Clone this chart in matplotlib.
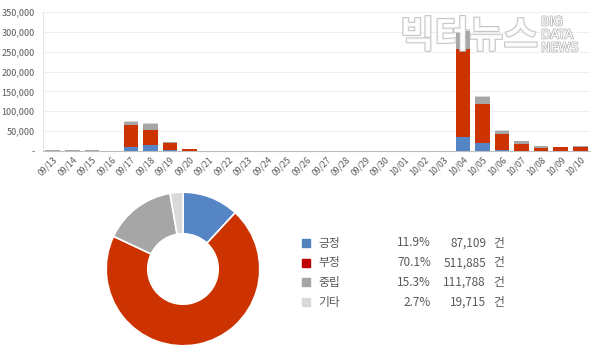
import numpy as np
import matplotlib.pyplot as plt
import matplotlib.patheffects as pe

plt.rcParams['font.family'] = ['Noto Sans CJK KR', 'DejaVu Sans']

dates = ['09/13', '09/14', '09/15', '09/16', '09/17', '09/18', '09/19', '09/20',
         '09/21', '09/22', '09/23', '09/24', '09/25', '09/26', '09/27', '09/28',
         '09/29', '09/30', '10/01', '10/02', '10/03', '10/04', '10/05', '10/06',
         '10/07', '10/08', '10/09', '10/10']

# daily counts per sentiment
positive = [800, 500, 500, 300, 11000, 14000, 2000, 300,
            200, 200, 200, 200, 200, 200, 200, 200,
            200, 200, 200, 200, 200, 35000, 19000, 2000,
            1000, 1000, 500, 500]
negative = [200, 200, 200, 100, 54000, 39000, 17000, 4000,
            300, 200, 200, 200, 200, 200, 200, 200,
            200, 200, 200, 200, 300, 221000, 99000, 41000,
            16000, 6500, 8500, 10500]
neutral = [1000, 800, 800, 500, 9000, 16000, 4000, 500,
           300, 200, 200, 200, 200, 200, 200, 200,
           200, 200, 200, 200, 300, 45000, 18000, 8000,
           7000, 4000, 1000, 1000]
other = [300, 300, 300, 200, 1500, 1500, 500, 200,
         100, 100, 100, 100, 100, 100, 100, 100,
         100, 100, 100, 100, 100, 6000, 3000, 2000,
         1000, 500, 500, 500]

labels = ['긍정', '부정', '중립', '기타']
shares = [11.9, 70.1, 15.3, 2.7]
totals = [87109, 511885, 111788, 19715]

colors = ['#5685C6', '#CC3300', '#A6A6A6', '#D9D9D9']
legend_colors = ['#4F81BD', '#C00000', '#A6A6A6', '#D9D9D9']
text_color = '#595959'

fig = plt.figure(figsize=(6, 3.46), dpi=100)

# stacked daily bars
ax = fig.add_axes([43 / 600, 1 - 151 / 346, 547 / 600, 139 / 346])
x = np.arange(len(dates))
bottom = np.zeros(len(dates))
for vals, c in zip([positive, negative, neutral, other], colors):
    ax.bar(x, vals, 0.75, bottom=bottom, color=c, zorder=3)
    bottom += np.array(vals)

ax.set_xlim(-0.5, len(dates) - 0.5)
ax.set_ylim(0, 350000)
ax.set_yticks(np.arange(0, 350001, 50000))
ax.set_yticklabels(['-'] + [f'{v:,}' for v in range(50000, 350001, 50000)])
ax.set_xticks(x)
ax.set_xticklabels(dates, rotation=45, ha='right', rotation_mode='anchor')
ax.tick_params(axis='y', labelsize=6.5, colors=text_color, length=0, pad=6)
ax.tick_params(axis='x', labelsize=6.3, colors=text_color, length=0, pad=3)
ax.grid(axis='y', color='#EFEFEF', linewidth=0.7, zorder=0)
for s in ['top', 'right']:
    ax.spines[s].set_visible(False)
ax.spines['left'].set_color('#E0E0E0')
ax.spines['left'].set_linewidth(0.6)
ax.spines['bottom'].set_color('#BFBFBF')
ax.spines['bottom'].set_linewidth(0.8)

# site watermark
wm = fig.text(400 / 600, 1 - 36 / 346, '빅터뉴스', fontsize=27, fontweight='bold',
              color='white', alpha=0.85, va='center', ha='left')
wm.set_path_effects([pe.withStroke(linewidth=1.5, foreground='#BBBBBB')])
for i, w in enumerate(['BIG', 'DATA', 'NEWS']):
    t = fig.text(541 / 600, 1 - (22 + i * 13) / 346, w, fontsize=9,
                 color='white', va='center', ha='left', family='DejaVu Sans')
    t.set_path_effects([pe.withStroke(linewidth=1.2, foreground='#BBBBBB')])

# sentiment share donut
pax = fig.add_axes([(183 - 80) / 600, 1 - (269 + 80) / 346, 160 / 600, 160 / 346])
pax.pie(shares, colors=colors, startangle=90, counterclock=False, radius=0.96,
        wedgeprops=dict(width=0.52, edgecolor='white', linewidth=1.2))
pax.set_xlim(-1, 1)
pax.set_ylim(-1, 1)
pax.set_aspect('equal')

# legend table
for i, (lab, sh, tot, c) in enumerate(zip(labels, shares, totals, legend_colors)):
    y = 1 - (243 + i * 19.7) / 346
    fig.patches.append(plt.Rectangle((302 / 600, y - 4 / 346), 8 / 600, 8 / 346,
                                     transform=fig.transFigure, color=c))
    fig.text(318 / 600, y, lab, fontsize=8.5, color=text_color, va='center')
    fig.text(431 / 600, y, f'{sh:.1f}%', fontsize=8.5, color=text_color,
             va='center', ha='right')
    fig.text(486 / 600, y, f'{tot:,}', fontsize=8.5, color=text_color,
             va='center', ha='right')
    fig.text(493 / 600, y, '건', fontsize=8.5, color=text_color, va='center')

fig.savefig('out.png', dpi=100)
